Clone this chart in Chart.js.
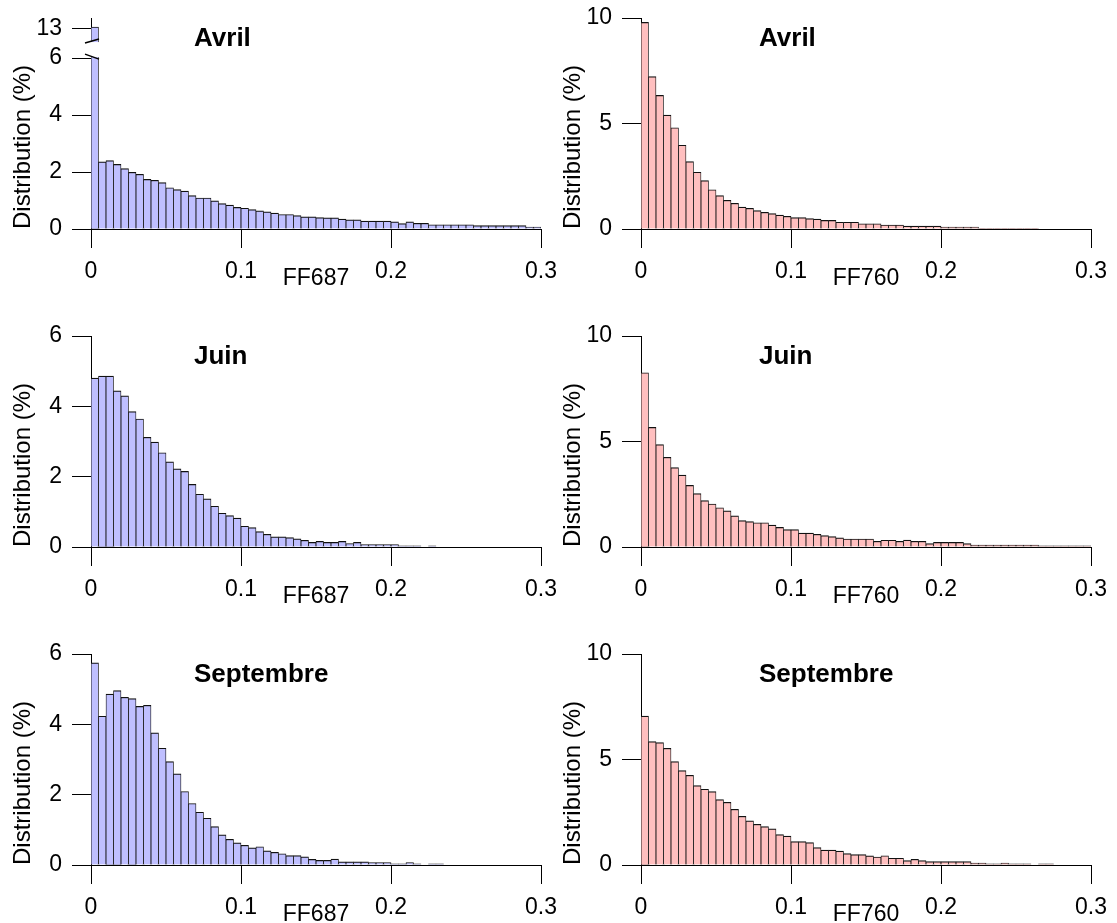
<!DOCTYPE html>
<html>
<head>
<meta charset="utf-8">
<script src="https://cdn.jsdelivr.net/npm/chart.js@4.4.1/dist/chart.umd.min.js"></script>
<style>
  html, body { margin: 0; padding: 0; background: #fff; overflow: hidden; }
  .panel { position: absolute; }
</style>
</head>
<body>
<div class="panel" style="left:0;top:0"><canvas id="avril687" width="560" height="289"></canvas></div>
<div class="panel" style="left:550px;top:0"><canvas id="avril760" width="560" height="289"></canvas></div>
<div class="panel" style="left:0;top:318px"><canvas id="juin687" width="560" height="289"></canvas></div>
<div class="panel" style="left:550px;top:318px"><canvas id="juin760" width="560" height="289"></canvas></div>
<div class="panel" style="left:0;top:636px"><canvas id="sept687" width="560" height="289"></canvas></div>
<div class="panel" style="left:550px;top:636px"><canvas id="sept760" width="560" height="289"></canvas></div>
<script>
// histogram bins of 0.005 from 0 to 0.3
const BIN_WIDTH = 0.005;
const binCenters = Array.from({ length: 60 }, (_, i) => (i + 0.5) * BIN_WIDTH);

const xTickValues = [0, 0.1, 0.2, 0.3];
const yTicks687 = [0, 2, 4, 6];
const yTicks687Avril = [0, 2, 4, 6, 13];
const yTicks760 = [0, 5, 10];

// Distribution (%) per bin
const avrilFF687 = [13.1, 2.36, 2.40, 2.27, 2.12, 1.99, 1.92, 1.74, 1.71, 1.63,
  1.45, 1.38, 1.33, 1.17, 1.09, 1.09, 0.99, 0.89, 0.84, 0.76,
  0.73, 0.68, 0.64, 0.60, 0.56, 0.51, 0.51, 0.47, 0.43, 0.43,
  0.40, 0.39, 0.39, 0.35, 0.32, 0.32, 0.28, 0.28, 0.28, 0.28,
  0.25, 0.19, 0.25, 0.20, 0.20, 0.15, 0.15, 0.15, 0.15, 0.15,
  0.15, 0.12, 0.12, 0.12, 0.12, 0.12, 0.12, 0.12, 0.07, 0.07];
const juinFF687 = [4.80, 4.86, 4.86, 4.44, 4.30, 3.85, 3.64, 3.12, 2.98, 2.68,
  2.42, 2.22, 2.15, 1.78, 1.50, 1.37, 1.16, 0.96, 0.89, 0.82,
  0.59, 0.55, 0.44, 0.36, 0.29, 0.29, 0.27, 0.23, 0.19, 0.13,
  0.16, 0.13, 0.13, 0.16, 0.10, 0.13, 0.07, 0.07, 0.07, 0.07,
  0.07, 0.03, 0.03, 0.03, 0, 0.03, 0, 0, 0, 0,
  0, 0, 0, 0, 0, 0, 0, 0, 0, 0];
const septFF687 = [5.75, 4.23, 4.86, 4.96, 4.77, 4.73, 4.51, 4.54, 3.76, 3.32,
  2.94, 2.59, 2.09, 1.75, 1.50, 1.33, 1.09, 0.86, 0.73, 0.63,
  0.56, 0.49, 0.52, 0.40, 0.36, 0.32, 0.27, 0.27, 0.23, 0.16,
  0.13, 0.13, 0.17, 0.09, 0.09, 0.09, 0.09, 0.07, 0.07, 0.07,
  0.03, 0.03, 0.07, 0.03, 0, 0.03, 0.03, 0, 0, 0,
  0, 0, 0, 0, 0, 0, 0, 0, 0, 0];
const avrilFF760 = [9.79, 7.22, 6.33, 5.40, 4.80, 3.97, 3.19, 2.69, 2.29, 1.86,
  1.58, 1.36, 1.22, 1.04, 0.98, 0.87, 0.79, 0.73, 0.66, 0.60,
  0.54, 0.54, 0.49, 0.47, 0.41, 0.41, 0.32, 0.32, 0.32, 0.25,
  0.25, 0.25, 0.19, 0.19, 0.19, 0.14, 0.14, 0.14, 0.14, 0.14,
  0.09, 0.09, 0.09, 0.09, 0.09, 0.03, 0.03, 0.03, 0.03, 0.03,
  0.03, 0.03, 0.03, 0, 0, 0, 0, 0, 0, 0];
const juinFF760 = [8.26, 5.67, 4.85, 4.25, 3.76, 3.41, 2.92, 2.53, 2.20, 2.04,
  1.86, 1.71, 1.48, 1.25, 1.20, 1.15, 1.15, 1.04, 0.93, 0.82,
  0.82, 0.66, 0.66, 0.60, 0.54, 0.49, 0.43, 0.38, 0.38, 0.38,
  0.38, 0.27, 0.32, 0.32, 0.27, 0.33, 0.27, 0.27, 0.16, 0.22,
  0.22, 0.22, 0.22, 0.16, 0.09, 0.09, 0.09, 0.09, 0.09, 0.09,
  0.09, 0.09, 0.09, 0.05, 0.05, 0.05, 0.05, 0.05, 0.05, 0.05];
const septFF760 = [7.06, 5.85, 5.80, 5.53, 4.90, 4.47, 4.25, 3.76, 3.59, 3.48,
  3.10, 2.97, 2.64, 2.31, 2.09, 1.93, 1.82, 1.71, 1.44, 1.37,
  1.11, 1.11, 1.06, 0.82, 0.71, 0.71, 0.66, 0.54, 0.49, 0.49,
  0.43, 0.38, 0.44, 0.32, 0.32, 0.21, 0.27, 0.21, 0.16, 0.16,
  0.16, 0.16, 0.16, 0.16, 0.09, 0.09, 0.05, 0.05, 0.09, 0.05,
  0.05, 0.05, 0, 0.05, 0.05, 0, 0, 0, 0, 0];

const FONT = "'Liberation Sans', Arial, sans-serif";
const BLUE = "rgb(191, 191, 255)";
const PINK = "rgb(255, 191, 191)";

// linear scale with a compressed stretch between axisBreak.from and axisBreak.to
class BrokenLinearScale extends Chart.LinearScale {
  squash(v) {
    const b = this.options.axisBreak;
    if (!b || v <= b.from) return v;
    if (v <= b.to) return b.from + (v - b.from) * b.gapSpan / (b.to - b.from);
    return b.from + b.gapSpan + (v - b.to) * b.upperScale;
  }
  getPixelForValue(value) {
    const lo = this.squash(this.min);
    return this.getPixelForDecimal((this.squash(value) - lo) / (this.squash(this.max) - lo));
  }
}
BrokenLinearScale.id = "brokenLinear";
BrokenLinearScale.defaults = Chart.LinearScale.defaults;
Chart.register(BrokenLinearScale);

// white gap + slash marks where the y axis is cut
const axisBreakPlugin = {
  id: "axisBreak",
  afterDraw(chart) {
    const y = chart.scales.y;
    const b = y.options.axisBreak;
    if (!b) return;
    const x = chart.scales.x;
    const ctx = chart.ctx;
    const lo = y.getPixelForValue(b.from);
    const hi = y.getPixelForValue(b.to);
    const left = x.getPixelForValue(0);
    const right = x.getPixelForValue(BIN_WIDTH);
    ctx.save();
    ctx.fillStyle = "#fff";
    ctx.fillRect(left - 3, hi + 1, right - left + 5, lo - hi - 2);
    ctx.strokeStyle = "#000";
    ctx.lineWidth = 1.5;
    ctx.beginPath();
    ctx.moveTo(left - 6, hi + 2);
    ctx.lineTo(left + 8, hi - 2);
    ctx.moveTo(left - 6, lo - 4);
    ctx.lineTo(left + 8, lo + 1);
    ctx.stroke();
    ctx.restore();
  }
};

const panelTitlePlugin = {
  id: "panelTitle",
  afterDraw(chart, args, opts) {
    const ctx = chart.ctx;
    ctx.save();
    ctx.font = "bold 26px " + FONT;
    ctx.fillStyle = "#000";
    ctx.textBaseline = "alphabetic";
    ctx.fillText(opts.text, chart.chartArea.left + opts.offset, chart.chartArea.top + 28);
    ctx.restore();
  }
};

function makePanel(id, values, cfg) {
  const tickFont = { family: FONT, size: 23 };
  new Chart(document.getElementById(id), {
    type: "bar",
    data: {
      datasets: [{
        data: values.map((v, i) => ({ x: binCenters[i], y: v })),
        backgroundColor: cfg.fill,
        borderColor: "#111",
        borderWidth: { top: 1.2, left: 0.8, right: 0.8, bottom: 0 },
        barPercentage: 1,
        categoryPercentage: 1
      }]
    },
    options: {
      responsive: false,
      animation: false,
      events: [],
      layout: { padding: { left: 0, top: 18, right: 19, bottom: 0 } },
      plugins: {
        legend: { display: false },
        tooltip: { enabled: false },
        panelTitle: { text: cfg.title, offset: cfg.titleOffset }
      },
      scales: {
        x: {
          type: "linear",
          min: 0,
          max: 0.3,
          bounds: "data",
          offset: false,
          afterBuildTicks: (s) => { s.ticks = xTickValues.map((v) => ({ value: v })); },
          afterFit: (s) => { s.height = 60; s.paddingLeft = 0; s.paddingRight = 0; },
          grid: { drawOnChartArea: false, drawTicks: true, tickLength: 19, color: "#000", offset: false },
          border: { color: "#000", width: 1 },
          ticks: { font: tickFont, color: "#000", padding: 10, maxRotation: 0, autoSkip: false,
            callback: (v) => String(v) },
          title: { display: true, text: cfg.xTitle, font: tickFont, color: "#000",
            padding: { top: 0, bottom: -3 } }
        },
        y: {
          type: cfg.axisBreak ? "brokenLinear" : "linear",
          min: 0,
          max: cfg.yMax,
          bounds: "data",
          axisBreak: cfg.axisBreak,
          afterBuildTicks: (s) => { s.ticks = cfg.yTicks.map((v) => ({ value: v })); },
          afterFit: (s) => { s.width = 91; s.paddingTop = 0; s.paddingBottom = 0; },
          grid: { drawOnChartArea: false, drawTicks: true, tickLength: 19, color: "#000" },
          border: { color: "#000", width: 1 },
          ticks: { font: tickFont, color: "#000", padding: 10, autoSkip: false,
            callback: (v) => String(v) },
          title: { display: true, text: "Distribution (%)", align: "start",
            font: { family: FONT, size: 24 }, color: "#000", padding: { top: 9, bottom: 0 } }
        }
      }
    },
    plugins: [panelTitlePlugin, axisBreakPlugin]
  });
}

makePanel("avril687", avrilFF687, {
  title: "Avril", titleOffset: 103, xTitle: "FF687", fill: BLUE,
  yMax: 13.8, yTicks: yTicks687Avril,
  axisBreak: { from: 6, to: 12, gapSpan: 0.6, upperScale: 0.45 }
});
makePanel("avril760", avrilFF760, {
  title: "Avril", titleOffset: 118, xTitle: "FF760", fill: PINK, yMax: 10, yTicks: yTicks760
});
makePanel("juin687", juinFF687, {
  title: "Juin", titleOffset: 103, xTitle: "FF687", fill: BLUE, yMax: 6, yTicks: yTicks687
});
makePanel("juin760", juinFF760, {
  title: "Juin", titleOffset: 118, xTitle: "FF760", fill: PINK, yMax: 10, yTicks: yTicks760
});
makePanel("sept687", septFF687, {
  title: "Septembre", titleOffset: 103, xTitle: "FF687", fill: BLUE, yMax: 6, yTicks: yTicks687
});
makePanel("sept760", septFF760, {
  title: "Septembre", titleOffset: 118, xTitle: "FF760", fill: PINK, yMax: 10, yTicks: yTicks760
});
</script>
</body>
</html>
